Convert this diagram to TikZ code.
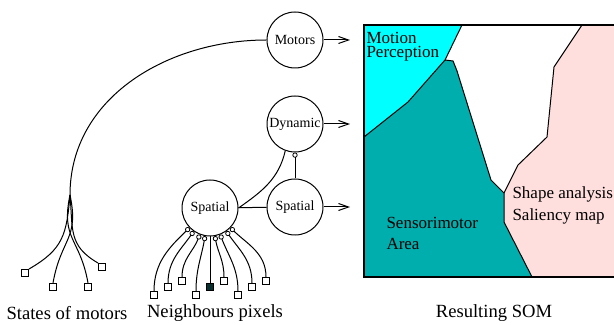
\documentclass[tikz,border=0pt]{standalone}
\usepackage{fontspec}
\setmainfont{Liberation Serif}
\usetikzlibrary{arrows.meta}
\definecolor{motioncyan}{RGB}{0,255,255}
\definecolor{sensoteal}{RGB}{0,174,174}
\definecolor{shapepink}{RGB}{255,222,222}
\definecolor{pixdark}{RGB}{8,48,48}

\begin{document}
\begin{tikzpicture}[x=0.5pt,y=0.5pt,line width=0.5pt,
  unit/.style={circle,draw,minimum size=28pt,inner sep=0pt,font=\fontsize{7}{8}\selectfont},
  pixel/.style={draw,fill=white,minimum size=3.5pt,inner sep=0pt},
  somarrow/.style={-{Straight Barb[length=5pt,width=3.5pt]}},
  link/.style={-{Circle[open,length=2.6pt,width=2.6pt,line width=0.4pt]}},
  caption/.style={font=\fontsize{9.3}{11}\selectfont},
  area/.style={anchor=west,align=left,inner sep=0pt}]
  \useasboundingbox (0,0) rectangle (614,-325);

  % Resulting SOM: areas
  \fill[motioncyan] (364,-25) -- (462,-25) -- (445,-60) -- (408,-102) -- (364,-137) -- cycle;
  \fill[sensoteal] (364,-137) -- (408,-102) -- (445,-60) -- (453,-61) -- (457,-71) -- (491,-180)
    -- (504,-193) -- (504,-222) -- (532,-277) -- (364,-277) -- cycle;
  \fill[shapepink] (504,-193) -- (518,-165) -- (547,-137) -- (554,-67) -- (582,-25) -- (614,-25)
    -- (614,-277) -- (532,-277) -- (504,-222) -- cycle;

  % Borders between areas
  \draw (462,-25) -- (445,-60) -- (408,-102) -- (364,-137);
  \draw (445,-60) -- (453,-61) -- (457,-71) -- (491,-180) -- (504,-193) -- (504,-222) -- (532,-277);
  \draw (504,-193) -- (518,-165) -- (547,-137) -- (554,-67) -- (582,-25);
  \draw[line width=0.8pt] (614,-25) -- (364,-25) -- (364,-277) -- (614,-277);

  % Area labels
  \node[area,font=\fontsize{8.5}{7}\selectfont] (motion) at (366,-47) {Motion\\Perception};
  \node[area,font=\fontsize{8.5}{10.5}\selectfont] (senso) at (386,-233) {Sensorimotor\\Area};
  \node[area,font=\fontsize{8.5}{11}\selectfont] (shape) at (512,-205) {Shape analysis\\Saliency map};

  % Units
  \node[unit] (motors) at (295,-40) {Motors};
  \node[unit] (dynamic) at (295,-124) {Dynamic};
  \node[unit] (spatialB) at (295,-207) {Spatial};
  \node[unit] (spatialA) at (210,-208) {Spatial};

  % Outputs to the map
  \coordinate (somA) at (350,-40);
  \coordinate (somB) at (350,-124);
  \coordinate (somC) at (350,-207);
  \draw[somarrow] (motors) -- (somA);
  \draw[somarrow] (dynamic) -- (somB);
  \draw[somarrow] (spatialB) -- (somC);

  % Links between units
  \draw (spatialA) -- (spatialB);
  \draw[link] (spatialB) -- (dynamic);
  \draw (spatialA.east) to[out=35,in=-103] (dynamic.-110);

  % States of motors
  \coordinate (mfan) at (70,-195);
  \node[pixel] (m1) at (25,-273) {};
  \node[pixel] (m2) at (53,-287) {};
  \node[pixel] (m3) at (88,-287) {};
  \node[pixel] (m4) at (102,-267) {};
  \draw (motors.west) to[out=180,in=90] (mfan);
  \draw (mfan) to[out=-95,in=30,looseness=1.2] (m1.north east);
  \draw (mfan) to[out=-78,in=80,looseness=1.3] (m2.north);
  \draw (mfan) to[out=-102,in=100,looseness=1.3] (m3.north);
  \draw (mfan) to[out=-85,in=150,looseness=1.2] (m4.north west);

  % Neighbours pixels
  \foreach \px/\py/\ang [count=\i] in {154/295/-136,168/287/-125,182/281/-111,196/295/-100,
      224/281/-80,238/295/-69,252/287/-55,266/281/-44} {
    \node[pixel] (n\i) at (\px,-\py) {};
    \draw[link] (n\i.north) to[out=90,in=\ang] (spatialA.\ang);
  }
  \node[pixel,fill=pixdark] (n0) at (210,-287) {};
  \draw (n0) -- (spatialA);

  % Captions
  \node[caption] (capm) at (67,-313) {States of motors};
  \node[caption] (capn) at (215,-313) {Neighbours pixels};
  \node[caption] (caps) at (494,-313) {Resulting SOM};
\end{tikzpicture}
\end{document}
